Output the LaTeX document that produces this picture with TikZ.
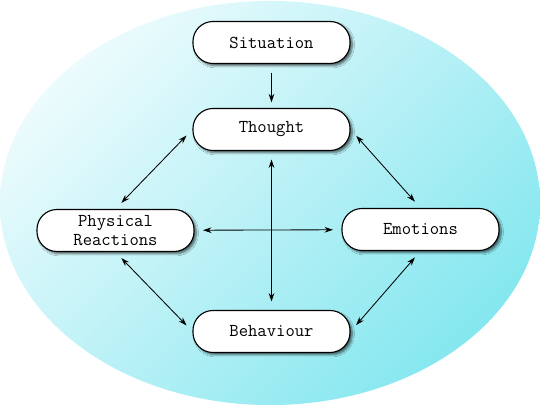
\documentclass[tikz,border=0pt]{standalone}
\usepackage{tikz}
\usetikzlibrary{arrows.meta}
\usetikzlibrary{shadows.blur}

\definecolor{bglight}{RGB}{236,251,253}
\definecolor{bgdark}{RGB}{133,231,239}

\begin{document}
\begin{tikzpicture}[x=0.025cm, y=-0.025cm,
            >={Stealth[length=6pt,width=4pt]},
            stage/.style={draw, thick, fill=white, rounded corners=0.5cm,
                minimum width=3.925cm, minimum height=1.05cm, align=center,
                font=\ttfamily\fontsize{12.9}{14}\selectfont,
                blur shadow={shadow xshift=1.6pt, shadow yshift=-1.6pt, shadow blur radius=1.5pt, shadow blur steps=6, shadow opacity=60}},
            link/.style={<->, semithick, shorten <=6pt, shorten >=6pt}]
            \useasboundingbox (0,0) rectangle (540,405);
            \shade [top color=bglight, bottom color=bgdark, shading angle=45] (270,203) ellipse [x radius=6.75cm, y radius=5.05cm];

            \node [stage] (sit) at (271.5,42.5) {Situation};
            \node [stage] (th) at (271.5,129.5) {Thought};
            \node [stage] (pr) at (115.5,230.5) {Physical\\Reactions};
            \node [stage] (em) at (420.5,229.5) {Emotions};
            \node [stage] (be) at (271.5,331.5) {Behaviour};

            \draw [->, semithick, shorten <=6pt, shorten >=4pt] (sit) -- (th);
            \draw [link] (th) -- (be);
            \draw [link] (pr) -- (em);
            \draw [link] (th.west) -- (pr.north);
            \draw [link] (th.east) -- (em.north);
            \draw [link] (pr.south) -- (be.west);
            \draw [link] (em.south) -- (be.east);
        \end{tikzpicture}
\end{document}
